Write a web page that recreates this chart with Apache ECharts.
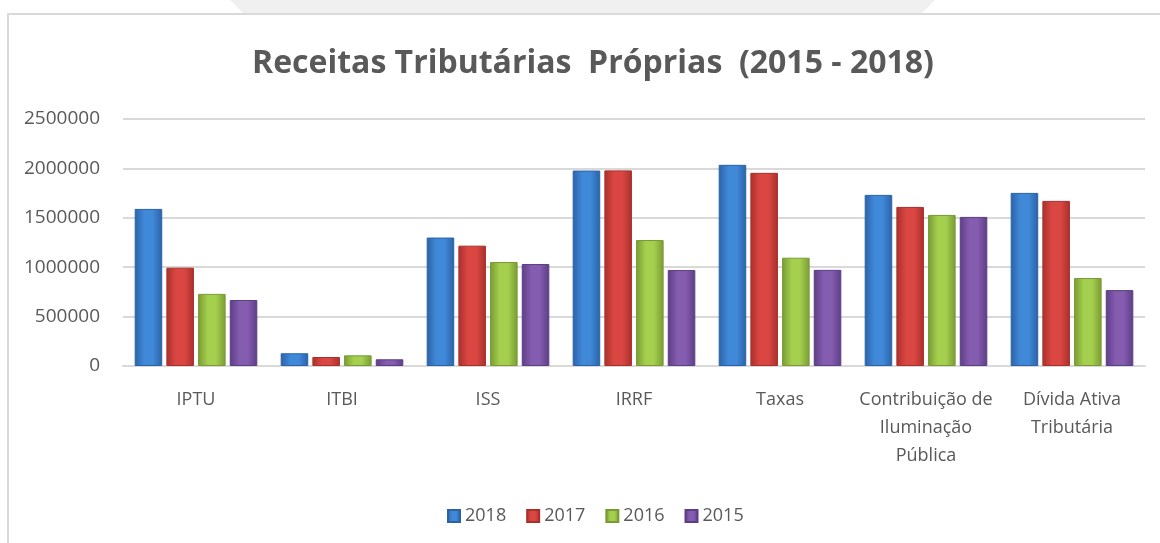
<!DOCTYPE html>
<html lang="pt">
<head>
    <meta charset="UTF-8">
    <title>Receitas Tributárias Próprias</title>
    <style>
        * {
            margin: 0;
            padding: 0;
        }

        html, body {
            width: 100%;
            height: 100%;
            background: #fff;
        }

        #chart {
            width: 1160px;
            height: 543px;
        }
    </style>
    <script src="https://cdnjs.cloudflare.com/ajax/libs/echarts/6.0.0/echarts.min.js"></script>
</head>
<body>
<div id="chart"></div>
<script>
    // categorias do eixo x
    const categories = ['IPTU', 'ITBI', 'ISS', 'IRRF', 'Taxas',
        'Contribuição de\nIluminação\nPública', 'Dívida Ativa\nTributária']

    const years = ['2018', '2017', '2016', '2015']

    // valores
    const values2018 = [1590000, 129000, 1300000, 1978000, 2036000, 1732000, 1752000]
    const values2017 = [995000, 91000, 1218000, 1980000, 1955000, 1610000, 1671000]
    const values2016 = [730000, 108000, 1052000, 1275000, 1096000, 1529000, 890000]
    const values2015 = [668000, 68000, 1032000, 971000, 973000, 1509000, 768000]

    const yTicks = [0, 500000, 1000000, 1500000, 2000000, 2500000]

    const seriesValues = [values2018, values2017, values2016, values2015]

    // cores tipo excel, escuro nas bordas e claro no meio
    const palette = [
        ['#2b62a6', '#4089d9'],
        ['#a92f2b', '#da4743'],
        ['#789b33', '#a5cf4e'],
        ['#5d3d84', '#845cb0']
    ]

    function barColor(pair) {
        return new echarts.graphic.LinearGradient(0, 0, 1, 0, [
            {offset: 0, color: pair[0]},
            {offset: 0.35, color: pair[1]},
            {offset: 0.65, color: pair[1]},
            {offset: 1, color: pair[0]}
        ])
    }

    const chart = echarts.init(document.getElementById('chart'))

    const labelFont = '"Open Sans", sans-serif'

    const option = {
        animation: false,
        color: palette.map(p => p[1]),
        title: {
            text: 'Receitas Tributárias  Próprias  (2015 - 2018)',
            left: 247,
            top: 43,
            textStyle: {
                fontFamily: '"Open Sans", sans-serif',
                fontSize: 32,
                fontWeight: 'bold',
                color: '#595959'
            }
        },
        legend: {
            data: years,
            left: 442,
            top: 502,
            icon: 'rect',
            itemWidth: 12,
            itemHeight: 12,
            itemGap: 20,
            textStyle: {
                fontFamily: labelFont,
                fontSize: 18,
                color: '#595959'
            }
        },
        grid: {
            left: 123,
            right: 15,
            top: 119,
            bottom: 177
        },
        xAxis: {
            type: 'category',
            data: categories,
            axisLine: {lineStyle: {color: '#d9d9d9', width: 2}},
            axisTick: {show: false},
            axisLabel: {
                interval: 0,
                margin: 20,
                lineHeight: 28,
                fontFamily: labelFont,
                fontSize: 18,
                color: '#595959'
            }
        },
        yAxis: {
            type: 'value',
            min: yTicks[0],
            max: yTicks[yTicks.length - 1],
            interval: yTicks[1] - yTicks[0],
            axisLine: {show: false},
            axisTick: {show: false},
            splitLine: {lineStyle: {color: '#d9d9d9', width: 2}},
            axisLabel: {
                margin: 23,
                fontFamily: labelFont,
                fontSize: 19,
                color: '#595959',
                formatter: v => String(v)
            }
        },
        series: years.map((y, i) => ({
            name: y,
            type: 'bar',
            data: seriesValues[i],
            barGap: '15%',
            barCategoryGap: '16%',
            itemStyle: {
                color: barColor(palette[i]),
                borderColor: palette[i][0],
                borderWidth: 1
            }
        })),
        graphic: [
            {
                type: 'polygon',
                shape: {points: [[230, 0], [935, 0], [922, 13], [243, 13]]},
                style: {fill: '#f0f0f0'},
                silent: true
            },
            {
                type: 'polyline',
                shape: {points: [[8, 543], [8, 14], [1160, 14]]},
                style: {stroke: '#d9d9d9', lineWidth: 2, fill: null},
                silent: true
            }
        ]
    }

    chart.setOption(option)
</script>
</body>
</html>
